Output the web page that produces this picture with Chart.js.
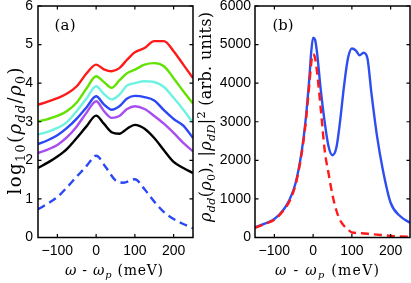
<!DOCTYPE html>
<html><head><meta charset="utf-8">
<script src="https://cdn.jsdelivr.net/npm/chart.js@4.4.0/dist/chart.umd.min.js"></script>
<style>
html,body{margin:0;padding:0;background:#fff;width:411px;height:283px;overflow:hidden}
canvas{position:absolute;top:0}
#ca{left:0}#cb{left:190px}
</style></head>
<body>
<canvas id="ca" width="206" height="283"></canvas>
<canvas id="cb" width="221" height="283"></canvas>
<script>
// ---- Panel (a) data ----
const xA     = [-150,-125,-100,-75,-50,-25,0,20,40,60,80,100,125,150,175,200,225,250];
const redA   = [3.44,3.52,3.61,3.73,3.92,4.25,4.48,4.36,4.31,4.39,4.61,4.80,4.91,5.09,5.09,4.83,4.48,4.13];
const greenA = [3.01,3.07,3.15,3.28,3.50,3.86,4.18,4.03,3.88,4.07,4.26,4.35,4.48,4.52,4.44,4.13,3.79,3.47];
const cyanA  = [2.67,2.74,2.84,2.99,3.28,3.60,3.92,3.72,3.58,3.70,3.94,4.00,4.05,4.03,3.90,3.62,3.31,2.97];
const blueA  = [2.42,2.52,2.65,2.84,3.08,3.37,3.66,3.45,3.31,3.40,3.60,3.67,3.64,3.55,3.30,3.07,2.90,2.58];
const purpA  = [2.19,2.28,2.40,2.60,2.88,3.23,3.53,3.28,3.10,3.15,3.33,3.40,3.33,3.15,2.95,2.71,2.45,2.23];
const blackA = [1.80,1.94,2.10,2.30,2.58,2.88,3.16,2.95,2.73,2.69,2.82,2.92,2.82,2.58,2.26,1.96,1.80,1.67];
const xDash  = [-150,-125,-100,-75,-50,-25,-5,0,25,50,70,100,125,150,175,200,225,250];
const dashA  = [0.73,0.88,1.05,1.30,1.58,1.85,2.10,2.12,1.82,1.48,1.42,1.51,1.25,0.93,0.66,0.48,0.35,0.24];

// ---- Panel (b) data ----
const xB    = [-150,-125,-100,-75,-60,-45,-30,-20,-10,-5,0,5,10,20,30,40,50,60,70,80,90,100,110,120,130,140,150,165,180,200,225,250];
const blueB = [260,360,480,740,1000,1420,2200,2980,4100,4800,5180,5130,4800,3800,2980,2350,2130,2330,3050,3950,4650,4900,4850,4720,4790,4650,3780,2620,1750,900,550,380];
const xBr   = [-150,-125,-100,-75,-60,-45,-30,-20,-10,-5,-2,0,5,10,20,30,40,50,60,70,80,90,100,125,150,175,200,225,250];
const redB  = [250,350,460,720,960,1380,2150,2900,3950,4500,4720,4750,4650,4300,3300,2250,1650,1100,700,440,300,210,130,110,86,65,43,28,17];

const xTicks  = [-100,0,100,200];
const yTicksA = [0,1,2,3,4,5,6];
const yTicksB = [0,1000,2000,3000,4000,5000,6000];

const SANS = '"Liberation Sans", Arial, sans-serif';
const SERIF = '"DejaVu Serif", "Liberation Serif", serif';
const fmt = v => v < 0 ? '\u2212' + Math.abs(v) : String(v);
const pts = (xs, ys) => xs.map((x, i) => ({x: x, y: ys[i]}));

function fontFor(f, size) {
  const sm = (f.includes('s') || f.includes('S')) ? size * 0.7 : size;
  return (f.includes('i') ? 'italic ' : '') + sm.toFixed(2) + 'px ' + SERIF;
}
function measure(ctx, glyphs, size) {
  let w = 0;
  for (const g of glyphs) { ctx.font = fontFor(g[1], size); g[2] = ctx.measureText(g[0]).width; w += g[2]; }
  return w;
}
// draws the text glyph by glyph; font grows to fit the target length (up to maxSize), small gaps fill the rest
function drawRich(ctx, segs, cx, cy, maxSize, targetW, rot) {
  const glyphs = [];
  for (const s of segs) {
    const f = s[1] || '';
    for (const ch of s[0]) glyphs.push([ch, f, 0]);
  }
  let size = 14;
  size = Math.min(maxSize, size * targetW / measure(ctx, glyphs, size));
  const w = measure(ctx, glyphs, size);
  const gap = glyphs.length > 1 ? Math.max(0, targetW - w) / (glyphs.length - 1) : 0;
  const total = w + gap * (glyphs.length - 1);
  ctx.save();
  ctx.translate(cx, cy);
  if (rot) ctx.rotate(-Math.PI / 2);
  ctx.fillStyle = '#000';
  ctx.textBaseline = 'alphabetic';
  ctx.textAlign = 'left';
  let x = -total / 2;
  const base = size * 0.33;
  for (const g of glyphs) {
    ctx.font = fontFor(g[1], size);
    let dy = base;
    if (g[1].includes('s')) dy += size * 0.22;
    if (g[1].includes('S')) dy -= size * 0.4;
    ctx.fillText(g[0], x, dy);
    x += g[2] + gap;
  }
  ctx.restore();
}

const frame = {
  id: 'frame',
  afterDraw(chart) {
    const {ctx, chartArea: a, scales} = chart;
    ctx.save();
    ctx.strokeStyle = '#000';
    ctx.lineWidth = 1.5;
    ctx.strokeRect(a.left, a.top, a.right - a.left, a.bottom - a.top);
    ctx.lineWidth = 1.2;
    const L = 3.5;
    ctx.beginPath();
    for (const t of scales.x.ticks) {
      const px = scales.x.getPixelForValue(t.value);
      ctx.moveTo(px, a.bottom); ctx.lineTo(px, a.bottom - L);
      ctx.moveTo(px, a.top); ctx.lineTo(px, a.top + L);
    }
    for (const t of scales.y.ticks) {
      const py = scales.y.getPixelForValue(t.value);
      ctx.moveTo(a.left, py); ctx.lineTo(a.left + L, py);
      ctx.moveTo(a.right, py); ctx.lineTo(a.right - L, py);
    }
    ctx.stroke();
    ctx.restore();
    const o = chart.options.plugins.frame;
    drawRich(ctx, o.xTitle, o.xt[0], o.xt[1], o.xt[2], o.xt[3], false);
    drawRich(ctx, o.yTitle, o.yt[0], o.yt[1], o.yt[2], o.yt[3], true);
    drawRich(ctx, o.label, o.lb[0], o.lb[1], o.lb[2], o.lb[3], false);
  }
};

const xTitleSegs = [['\u03c9','i'],[' - '],['\u03c9','i'],['p','is'],[' (meV)']];

function scalesFor(yMin, yMax, yTicks, yWidth, yPad) {
  return {
    x: {
      type: 'linear', min: -150, max: 250,
      afterBuildTicks: s => { s.ticks = xTicks.map(v => ({value: v})); },
      afterFit: s => { s.height = 45.5; s.paddingLeft = 0; s.paddingRight = 0; },
      grid: {display: false, drawTicks: false, tickLength: 0}, border: {display: false},
      ticks: {padding: 5, color: '#000', font: {family: SANS, size: 14}, callback: fmt, maxRotation: 0, autoSkip: false}
    },
    y: {
      type: 'linear', min: yMin, max: yMax,
      afterBuildTicks: s => { s.ticks = yTicks.map(v => ({value: v})); },
      afterFit: s => { s.width = yWidth; s.paddingTop = 0; s.paddingBottom = 0; },
      grid: {display: false, drawTicks: false, tickLength: 0}, border: {display: false},
      ticks: {padding: yPad, color: '#000', font: {family: SANS, size: 14}, callback: fmt, autoSkip: false}
    }
  };
}

const lineDs = (label, xs, ys, color, dash) => ({
  label: label, data: pts(xs, ys), borderColor: color, borderWidth: 2.4,
  borderDash: dash || [], pointRadius: 0, fill: false, tension: 0.4,
  cubicInterpolationMode: 'monotone'
});

new Chart(document.getElementById('ca'), {
  type: 'line',
  data: {datasets: [
    lineDs('red', xA, redA, '#ff1a1a'),
    lineDs('green', xA, greenA, '#62e200'),
    lineDs('cyan', xA, cyanA, '#70f2e0'),
    lineDs('blue', xA, blueA, '#2a48f5'),
    lineDs('purple', xA, purpA, '#a84ef0'),
    lineDs('black', xA, blackA, '#000000'),
    lineDs('dashed', xDash, dashA, '#2a48f5', [8, 5])
  ]},
  options: {
    responsive: false, animation: false, events: [],
    layout: {padding: {top: 6, right: 13, bottom: 0, left: 0}},
    plugins: {
      legend: {display: false}, tooltip: {enabled: false},
      frame: {
        xTitle: xTitleSegs, xt: [114, 270, 14, 98],
        yTitle: [['log'],['10','s'],['('],['\u03c1','i'],['dd','is'],['/'],['\u03c1','i'],['0','s'],[')']],
        yt: [15, 131, 18, 127],
        label: [['(a)']], lb: [65, 25, 15, 21]
      }
    },
    scales: scalesFor(0, 6, yTicksA, 38, 5)
  },
  plugins: [frame]
});

new Chart(document.getElementById('cb'), {
  type: 'line',
  data: {datasets: [
    lineDs('dashed', xBr, redB, '#ff1a1a', [8, 5]),
    lineDs('solid', xB, blueB, '#2d4ef0')
  ]},
  options: {
    responsive: false, animation: false, events: [],
    layout: {padding: {top: 6, right: 1, bottom: 0, left: 0}},
    plugins: {
      legend: {display: false}, tooltip: {enabled: false},
      frame: {
        xTitle: xTitleSegs, xt: [137, 270, 14, 104],
        yTitle: [['\u03c1','i'],['dd','is'],['('],['\u03c1','i'],['0','s'],['), |'],['\u03c1','i'],['dD','is'],['|'],['2','S'],[' (arb. units)']],
        yt: [16, 117, 16, 210],
        label: [['(b)']], lb: [93, 25, 15, 21]
      }
    },
    scales: scalesFor(0, 6000, yTicksB, 65, 4)
  },
  plugins: [frame]
});
</script>
</body></html>
